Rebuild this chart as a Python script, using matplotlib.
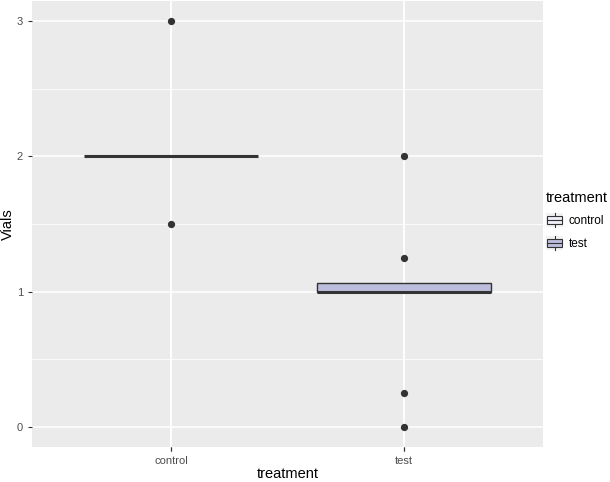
import matplotlib
matplotlib.use("Agg")
import matplotlib.pyplot as plt
from matplotlib.legend_handler import HandlerBase
from matplotlib.patches import Rectangle
from matplotlib.lines import Line2D

plt.rcParams['font.family'] = ['Liberation Sans', 'DejaVu Sans']

# data
categories = ["control", "test"]
q1 = [2.0, 1.0]
medians = [2.0, 1.0]
q3 = [2.0, 1.0625]
whislo = [2.0, 1.0]
whishi = [2.0, 1.0625]
outliers = [[3.0, 1.5], [2.0, 1.25, 0.25, 0.0]]
fills = ["#EFEDF5", "#BCBDDC"]

stats = []
for i, name in enumerate(categories):
    stats.append(dict(label=name, q1=q1[i], med=medians[i], q3=q3[i],
                      whislo=whislo[i], whishi=whishi[i], fliers=outliers[i]))

fig = plt.figure(figsize=(6.1, 4.82), dpi=100)
ax = fig.add_axes([32 / 610, 1 - 447 / 482, (543 - 32) / 610, 446 / 482])
ax.set_facecolor("#EBEBEB")

ax.set_xlim(0.4, 2.6)
ax.set_ylim(-0.15, 3.15)
ax.set_yticks([0, 1, 2, 3])
ax.set_yticks([0.5, 1.5, 2.5], minor=True)
ax.set_xticks([1, 2])
ax.set_xticklabels(categories)
ax.grid(True, which="major", color="white", linewidth=1.1)
ax.grid(True, which="minor", axis="y", color="white", linewidth=0.55)
ax.set_axisbelow(True)
for s in ax.spines.values():
    s.set_visible(False)

bp = ax.bxp(stats, positions=[1, 2], widths=0.75, patch_artist=True,
            showcaps=False,
            boxprops=dict(edgecolor="#333333", linewidth=1.0),
            medianprops=dict(color="#333333", linewidth=2.2),
            whiskerprops=dict(color="#333333", linewidth=1.0),
            flierprops=dict(marker="o", markersize=4.2, markerfacecolor="#333333",
                            markeredgecolor="#333333", linestyle="none"))
for patch, c in zip(bp["boxes"], fills):
    patch.set_facecolor(c)
for patch in bp["boxes"][:1]:
    patch.set_linewidth(0)
for b in bp["boxes"]:
    b.set_zorder(2)
for m in bp["medians"]:
    m.set_zorder(3)

ax.tick_params(axis="both", which="major", length=3, color="#333333",
               labelcolor="#4D4D4D", labelsize=8, width=0.8)
ax.tick_params(axis="both", which="minor", length=0)
ax.set_xlabel("treatment", fontsize=10.5, color="black")
ax.set_ylabel("Vials", fontsize=10.5, color="black")
ax.xaxis.set_label_coords(0.5, -0.061)
ax.yaxis.set_label_coords(-0.047, 0.5)
ax.xaxis.label.set_va("center")
ax.yaxis.label.set_va("center")


class BoxKey(HandlerBase):
    def create_artists(self, legend, orig_handle, xdescent, ydescent,
                       width, height, fontsize, trans):
        bg = Rectangle((-xdescent, -ydescent), width, height,
                       facecolor="#F2F2F2", edgecolor="none", transform=trans)
        cx = -xdescent + width / 2
        vline = Line2D([cx, cx], [-ydescent, -ydescent + height],
                       color="#333333", linewidth=0.8, transform=trans)
        box = Rectangle((-xdescent + 1, -ydescent + height * 0.22),
                        width - 2, height * 0.56,
                        facecolor=orig_handle.get_facecolor(),
                        edgecolor="#333333", linewidth=0.8, transform=trans)
        mid = Line2D([-xdescent + 1, -xdescent + width - 1],
                     [-ydescent + height / 2] * 2,
                     color="#333333", linewidth=0.8, transform=trans)
        return [bg, vline, box, mid]


handles = [Rectangle((0, 0), 1, 1, facecolor=c) for c in fills]
leg = fig.legend(handles, categories, title="treatment",
                 handler_map={Rectangle: BoxKey()},
                 loc="upper left", bbox_to_anchor=(546 / 610, 1 - 191 / 482),
                 frameon=False, fontsize=8.5, title_fontsize=10.5,
                 handlelength=1.45, handleheight=1.45, handletextpad=0.45,
                 labelspacing=0.72, borderaxespad=0, borderpad=0)
leg._legend_box.align = "left"
leg._legend_box.sep = 6

fig.savefig("out.png", dpi=100)
